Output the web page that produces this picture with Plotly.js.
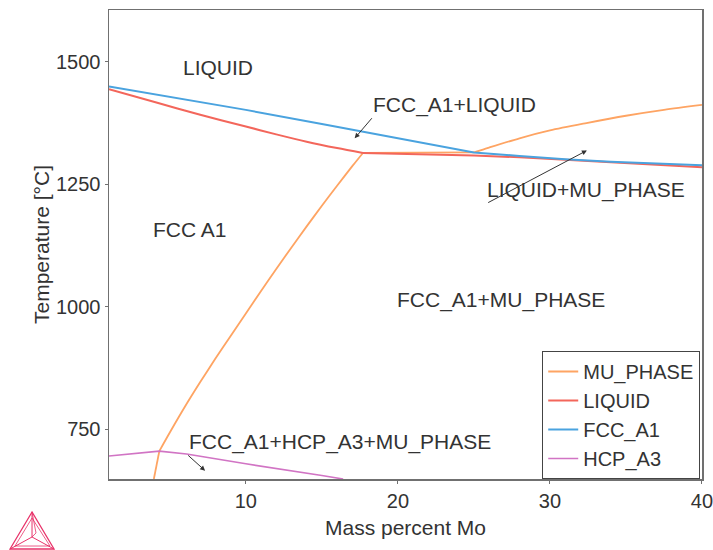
<!DOCTYPE html>
<html>
<head>
<meta charset="utf-8">
<script src="https://cdn.plot.ly/plotly-3.0.1.min.js"></script>
<style>html,body{margin:0;padding:0;background:#fff;}#chart{width:713px;height:550px;}</style>
</head>
<body>
<div id="chart"></div>
<script>
// Phase boundary data (Mass percent Mo, Temperature °C)
// MU_PHASE boundary, split at its sharp corners
var muStemX  = [3.95, 4.31];
var muStemY  = [648, 705];
var muLowX   = [4.31, 5, 6, 7, 8, 9, 10, 11, 12, 13, 14, 15, 16, 17, 17.7];
var muLowY   = [705, 743, 796, 846, 894, 940, 986, 1032, 1077, 1121, 1164, 1206, 1247, 1287, 1314];
var muFlatX  = [17.7, 25];
var muFlatY  = [1314, 1315];
var muHighX  = [25, 26, 28, 30, 32.4, 35, 37.5, 40];
var muHighY  = [1315, 1325, 1344, 1360, 1375, 1390, 1402, 1412];
// LIQUID boundary
var liqLeftX  = [1, 4, 7, 10, 12, 14, 16, 17.7];
var liqLeftY  = [1444, 1418, 1392, 1368, 1352, 1337, 1324, 1314];
var liqRightX = [17.7, 25, 28, 31, 34, 37, 40];
var liqRightY = [1314, 1309, 1305, 1300, 1295, 1290, 1285];
// FCC_A1 boundary
var fccX = [1, 5, 10, 15, 20, 25, 28, 31, 34, 37, 40];
var fccY = [1450, 1429, 1402, 1373, 1344, 1315, 1308, 1301, 1296, 1292, 1289];
// HCP_A3 boundary
var hcpX = [1, 4.31, 6.1, 10, 15, 16.4];
var hcpY = [695, 705, 699, 679, 655, 648];

var seriesNames = ['MU_PHASE', 'LIQUID', 'FCC_A1', 'HCP_A3'];
var seriesColors = ['#fea463', '#f3665b', '#4aa3df', '#d174c4'];

// Region labels
var labelText = ['LIQUID', 'FCC_A1+LIQUID', 'LIQUID+MU_PHASE', 'FCC A1', 'FCC_A1+MU_PHASE', 'FCC_A1+HCP_A3+MU_PHASE'];
var labelX = [8.2, 23.7, 32.4, 6.3, 26.8, 16.2];
var labelY = [1488, 1412, 1238, 1157, 1014, 724];

// Pointer arrows: tail (ax, ay) to head (hx, hy)
var arrowTailX = [18.37, 25.84, 6.11];
var arrowTailY = [1388, 1211, 699];
var arrowHeadX = [17.16, 32.43, 7.32];
var arrowHeadY = [1344, 1319, 665];

var FONT = 'Liberation Sans, Arial, sans-serif';

function seg(x, y, k, smooth, first, width) {
  return {
    x: x, y: y, name: seriesNames[k], legendgroup: seriesNames[k], showlegend: first,
    type: 'scatter', mode: 'lines',
    line: {color: seriesColors[k], width: width, shape: smooth ? 'spline' : 'linear', smoothing: 0.8},
    hoverinfo: 'skip'
  };
}

var traces = [
  seg(muStemX, muStemY, 0, false, true, 1.8),
  seg(muLowX, muLowY, 0, true, false, 1.8),
  seg(muFlatX, muFlatY, 0, false, false, 1.8),
  seg(muHighX, muHighY, 0, true, false, 1.8),
  seg(liqLeftX, liqLeftY, 1, true, true, 2),
  seg(liqRightX, liqRightY, 1, false, false, 2),
  seg(fccX, fccY, 2, false, true, 2),
  seg(hcpX, hcpY, 3, false, true, 1.6)
];

var annotations = labelText.map(function (t, i) {
  return {
    text: t, x: labelX[i], y: labelY[i], xref: 'x', yref: 'y',
    showarrow: false, font: {size: 21, color: '#333', family: FONT}
  };
});
arrowTailX.forEach(function (tx, i) {
  annotations.push({
    text: '', x: arrowHeadX[i], y: arrowHeadY[i], ax: tx, ay: arrowTailY[i],
    xref: 'x', yref: 'y', axref: 'x', ayref: 'y',
    showarrow: true, arrowhead: 2, arrowsize: 1, arrowwidth: 1, arrowcolor: '#333', standoff: 0, startstandoff: 0
  });
});

// Logo (decorative, paper coords)
function px2x(p) { return (p - 109) / 593; }
function px2y(p) { return (479 - p) / 469; }
function P(pts) {
  return pts.map(function (q, i) { return (i ? 'L' : 'M') + px2x(q[0]).toFixed(4) + ',' + px2y(q[1]).toFixed(4); }).join(' ');
}
var logoColor = '#e8336a';
var shapes = [
  {type: 'path', xref: 'paper', yref: 'paper', path: P([[32, 512], [10, 549], [54, 549]]) + ' Z', line: {color: logoColor, width: 1.3}},
  {type: 'path', xref: 'paper', yref: 'paper', path: P([[32, 512], [32, 537], [10, 549]]), line: {color: logoColor, width: 1}},
  {type: 'path', xref: 'paper', yref: 'paper', path: P([[32, 537], [54, 549]]), line: {color: logoColor, width: 1}},
  {type: 'path', xref: 'paper', yref: 'paper', path: P([[32, 518], [15, 546], [50, 546]]) + ' Z', line: {color: logoColor, width: 0.8}},
  {type: 'path', xref: 'paper', yref: 'paper', path: P([[32, 512], [36, 533], [32, 537]]), line: {color: logoColor, width: 0.8}}
];

var axisCommon = {
  showgrid: false, zeroline: false, showline: true, linecolor: '#707070', linewidth: 1.5,
  mirror: true, ticks: 'outside', ticklen: 3, tickcolor: '#707070', tickwidth: 1,
  ticklabeloverflow: 'allow',
  tickfont: {size: 20, color: '#333', family: FONT}
};

var layout = {
  width: 713, height: 550,
  margin: {l: 109, r: 11, t: 10, b: 71},
  paper_bgcolor: '#fff', plot_bgcolor: '#fff',
  font: {family: FONT, color: '#333'},
  xaxis: Object.assign({}, axisCommon, {
    range: [1, 40.001], tick0: 0, dtick: 10,
    title: {text: 'Mass percent Mo', font: {size: 21, color: '#333'}, standoff: 10}
  }),
  yaxis: Object.assign({}, axisCommon, {
    range: [648, 1606], tick0: 0, dtick: 250,
    title: {text: 'Temperature [°C]', font: {size: 21, color: '#333'}, standoff: 0}
  }),
  showlegend: true,
  legend: {
    x: 0.997, y: 0, xanchor: 'right', yanchor: 'bottom',
    bgcolor: '#fff', bordercolor: '#444', borderwidth: 1, tracegroupgap: 0,
    font: {size: 20, color: '#333', family: FONT}
  },
  annotations: annotations,
  shapes: shapes
};

Plotly.newPlot('chart', traces, layout, {displayModeBar: false, staticPlot: true});
</script>
</body>
</html>
